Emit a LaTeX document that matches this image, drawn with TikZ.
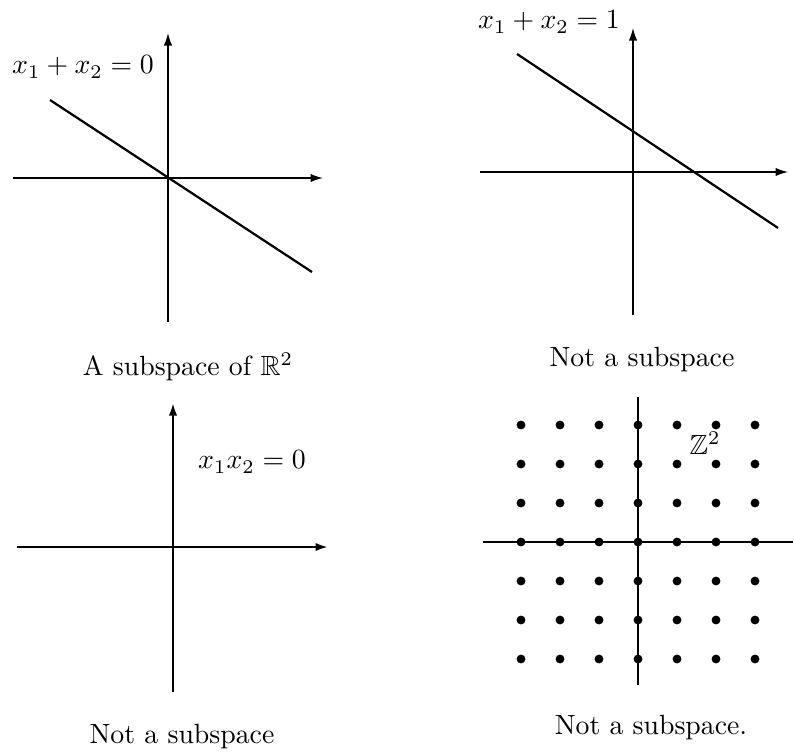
\documentclass[tikz,border=0pt]{standalone}
\usepackage{amsmath,amssymb}
\usepackage{tikz}
\usetikzlibrary{arrows.meta}

\begin{document}
\begin{tikzpicture}[
  x=0.36pt, y=-0.36pt,
  axis/.style={line width=0.5pt},
  axisarrow/.style={axis, -{Latex[length=4.5pt,width=3pt]}},
  graphline/.style={line width=0.8pt},
  latticedot/.style={circle, fill=black, inner sep=0pt, minimum size=3.2pt},
  eqlabel/.style={inner sep=1pt},
  caption/.style={inner sep=1pt}
]
\useasboundingbox (0,0) rectangle (794,751);

% top left: x1+x2=0
\coordinate (xa1) at (13,178);  \coordinate (xb1) at (323,178);
\coordinate (ya1) at (168,322); \coordinate (yb1) at (168,33);
\coordinate (la1) at (50,100);  \coordinate (lb1) at (312,272);
\draw[axisarrow] (xa1) -- (xb1);
\draw[axisarrow] (ya1) -- (yb1);
\draw[graphline] (la1) -- (lb1);
\node[eqlabel] (eq1) at (83,67) {$x_1+x_2=0$};
\node[caption] (cap1) at (188,367) {A subspace of $\mathbb{R}^2$};

% top right: x1+x2=1
\coordinate (xa2) at (480,172); \coordinate (xb2) at (788,172);
\coordinate (ya2) at (633,315); \coordinate (yb2) at (633,28);
\coordinate (la2) at (517,54);  \coordinate (lb2) at (778,228);
\draw[axisarrow] (xa2) -- (xb2);
\draw[axisarrow] (ya2) -- (yb2);
\draw[graphline] (la2) -- (lb2);
\node[eqlabel] (eq2) at (549,22) {$x_1+x_2=1$};
\node[caption] (cap2) at (642,360) {Not a subspace};

% bottom left: x1x2=0
\coordinate (xa3) at (17,547);  \coordinate (xb3) at (328,547);
\coordinate (ya3) at (173,692); \coordinate (yb3) at (173,403);
\draw[axisarrow, line width=0.8pt] (xa3) -- (xb3);
\draw[axisarrow, line width=0.8pt] (ya3) -- (yb3);
\node[eqlabel] (eq3) at (252,462) {$x_1x_2=0$};
\node[caption] (cap3) at (182,737) {Not a subspace};

% bottom right: Z^2
\coordinate (xa4) at (483,542); \coordinate (xb4) at (793,542);
\coordinate (ya4) at (638,685); \coordinate (yb4) at (638,397);
\draw[axis] (xa4) -- (xb4);
\draw[axis] (ya4) -- (yb4);
\foreach \i in {-3,...,3}
  \foreach \j in {-3,...,3}
    \node[latticedot] (d\i\j) at (638+39*\i,542+39*\j) {};
\node[eqlabel] (eq4) at (705,443) {$\mathbb{Z}^2$};
\node[caption] (cap4) at (651,728) {Not a subspace.};
\end{tikzpicture}
\end{document}
